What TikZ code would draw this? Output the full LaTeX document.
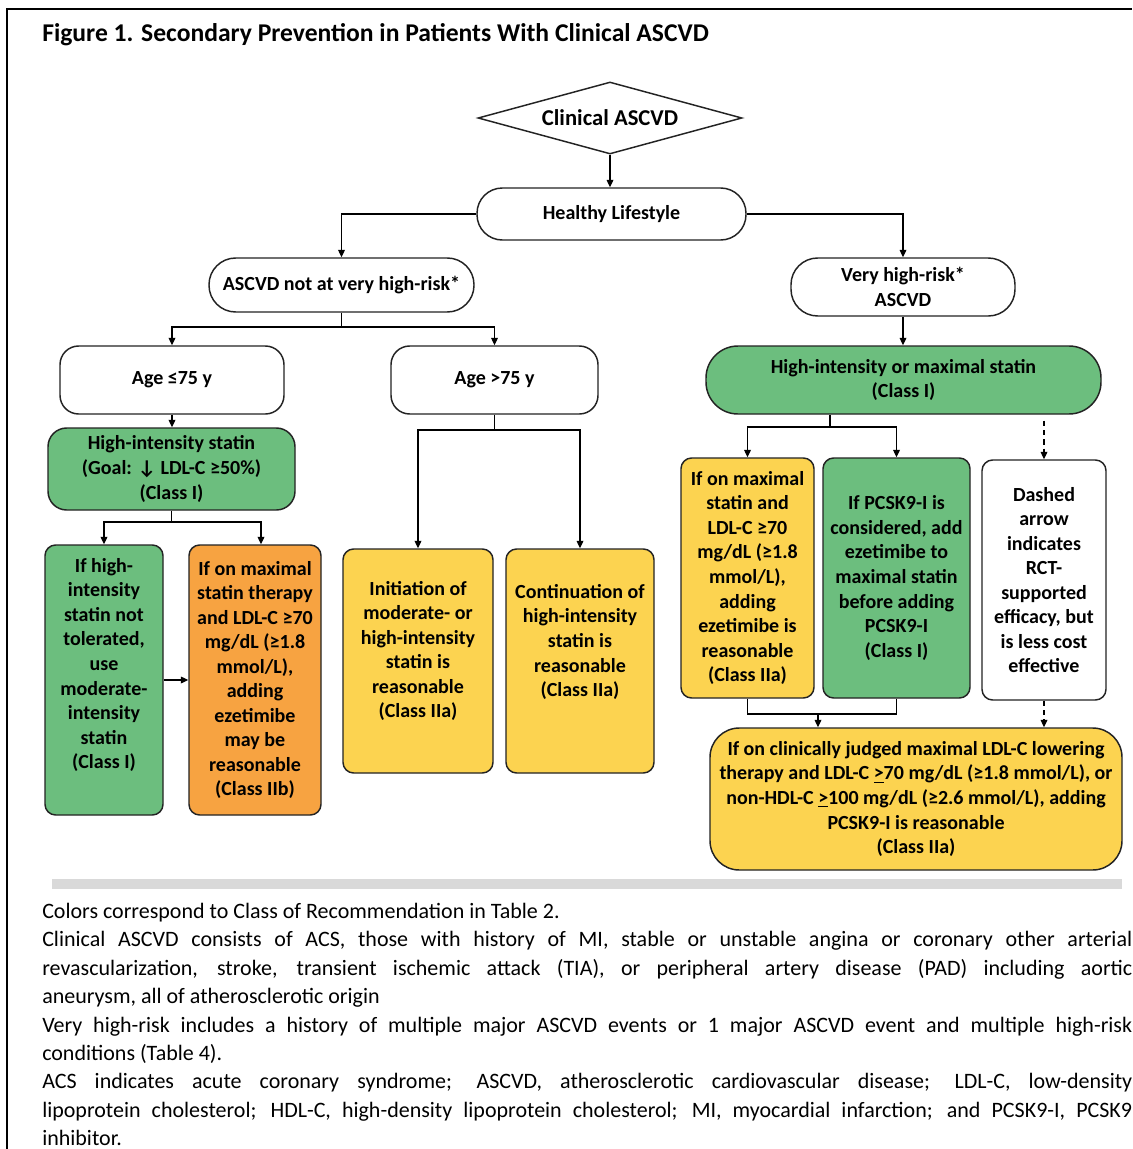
\documentclass[tikz,border=0pt]{standalone}
\usepackage{fontspec}
\setmainfont{Carlito}
\usetikzlibrary{arrows.meta,shapes.geometric,calc}
\definecolor{cgreen}{RGB}{108,190,126}
\definecolor{corange}{RGB}{247,163,65}
\definecolor{cyellow}{RGB}{252,211,80}
\definecolor{cborder}{RGB}{35,35,35}
\definecolor{cgray}{RGB}{217,217,217}
\newcommand\bxf{\fontsize{15}{18.4}\selectfont\bfseries}
\begin{document}
\begin{tikzpicture}[x=0.75pt,y=-0.75pt,
  sz/.style 2 args={minimum width=#1*0.75pt,minimum height=#2*0.75pt},
  box/.style={draw=cborder,line width=1.1pt,align=center,inner sep=1pt,font=\bxf},
  txt/.style={font=\bxf,align=center,inner sep=0pt},
  arr/.style={draw=black,line width=0.9pt,-{Triangle[length=5.5pt,width=5pt]}},
  ln/.style={draw=black,line width=0.9pt},
  darr/.style={arr,dash pattern=on 4pt off 3pt},
]
\useasboundingbox (0,0) rectangle (1132,1149);
\fill[white] (0,0) rectangle (1132,1149);
\draw[line width=1.5pt] (7,1149) -- (7,9) -- (1132,9);

\node[anchor=west,inner sep=0pt,font=\fontsize{19.2}{22}\selectfont\bfseries] (title) at (42,35) {Figure 1. Secondary Prevention in Patients With Clinical ASCVD};

% nodes
\node[box,diamond,aspect=3.6,inner sep=0pt,sz={264}{72},font=\fontsize{17}{20}\selectfont\bfseries] (dia) at (610,118) {Clinical ASCVD};
\node[box,rounded corners=19pt,sz={269}{52}] (hl) at (611.5,214) {Healthy Lifestyle};
\node[box,rounded corners=20pt,sz={265}{54}] (nvh) at (341.5,285) {ASCVD not at very high-risk*};
\node[box,rounded corners=20pt,sz={224}{58}] (vh) at (903,287) {Very high-risk*\\ASCVD};
\node[box,rounded corners=14pt,sz={224}{68}] (age1) at (172,380) {Age ≤75 y};
\node[box,rounded corners=14pt,sz={207}{68}] (age2) at (494.5,380) {Age >75 y};
\node[box,fill=cgreen,rounded corners=14pt,sz={247}{82}] (his) at (171.5,469) {High-intensity statin\\(Goal: ↓ LDL-C ≥50\%)\\(Class I)};
\node[box,fill=cgreen,rounded corners=8pt,sz={118}{270}] (g1) at (104,680) {};
\node[txt] (g1t) at (104,665) {If high-\\intensity\\statin not\\tolerated,\\use\\moderate-\\intensity\\statin\\(Class I)};
\node[box,fill=corange,rounded corners=8pt,sz={132}{270}] (o1) at (255,680) {If on maximal\\statin therapy\\and LDL-C ≥70\\mg/dL (≥1.8\\mmol/L),\\adding\\ezetimibe\\may be\\reasonable\\(Class IIb)};
\node[box,fill=cyellow,rounded corners=8pt,sz={150}{224}] (y1) at (418,661) {};
\node[txt] (y1t) at (418,651) {Initiation of\\moderate- or\\high-intensity\\statin is\\reasonable\\(Class IIa)};
\node[box,fill=cyellow,rounded corners=8pt,sz={148}{224}] (y2) at (580,661) {};
\node[txt] (y2t) at (580,642) {Continuation of\\high-intensity\\statin is\\reasonable\\(Class IIa)};
\node[box,fill=cgreen,rounded corners=24pt,sz={395}{68}] (him) at (903.5,380) {High-intensity or maximal statin\\(Class I)};
\node[box,fill=cyellow,rounded corners=8pt,sz={133}{240}] (y3) at (747.5,578) {If on maximal\\statin and\\LDL-C ≥70\\mg/dL (≥1.8\\mmol/L),\\adding\\ezetimibe is\\reasonable\\(Class IIa)};
\node[box,fill=cgreen,rounded corners=8pt,sz={147}{240}] (g2) at (896.5,578) {If PCSK9-I is\\considered, add\\ezetimibe to\\maximal statin\\before adding\\PCSK9-I\\(Class I)};
\node[box,fill=white,rounded corners=8pt,sz={124}{240}] (w1) at (1044,580) {Dashed\\arrow\\indicates\\RCT-\\supported\\efficacy, but\\is less cost\\effective};
\node[box,fill=cyellow,rounded corners=22pt,sz={412}{142},inner sep=1pt] (y4) at (916,799) {If on clinically judged maximal LDL-C lowering\\therapy and LDL-C \underline{>}70 mg/dL (≥1.8 mmol/L), or\\non-HDL-C \underline{>}100 mg/dL (≥2.6 mmol/L), adding\\PCSK9-I is reasonable\\(Class IIa)};

% connectors
\draw[arr] (dia.south) -- (dia.south |- hl.north);
\draw[arr] (hl.west) -| (nvh.north);
\draw[arr] (hl.east) -| (vh.north);
\coordinate (b1) at (341.5,327);
\draw[ln] (nvh.south) -- (b1);
\draw[arr] (b1) -| (age1.north);
\draw[arr] (b1) -| (age2.north);
\draw[arr] (vh.south) -- (vh.south |- him.north);
\draw[arr] (age1.south) -- (age1.south |- his.north);
\coordinate (b2) at (171.5,522);
\draw[ln] (his.south) -- (b2);
\draw[arr] (b2) -| (g1.north);
\draw[arr] (b2) -| ([xshift=4.5pt]o1.north);
\draw[arr] (g1.east) -- (o1.west);
\coordinate (b3) at (494.5,430);
\draw[ln] (age2.south) -- (b3);
\draw[arr] (b3) -| (y1.north);
\draw[arr] (b3) -| (y2.north);
\coordinate (b4) at (830,427);
\draw[ln] (b4 |- him.south) -- (b4);
\draw[arr] (b4) -| (y3.north);
\draw[arr] (b4) -| (g2.north);
\draw[darr] (w1.north |- him.south) ++(0,6) -- (w1.north);
\coordinate (b5) at (818,714);
\draw[ln] (y3.south) |- (b5);
\draw[ln] (g2.south) |- (b5);
\draw[arr] (b5) -- (b5 |- y4.north);
\draw[darr] (w1.south) -- (w1.south |- y4.north);

\fill[cgray] (52,879) rectangle (1122,889);

\node[anchor=north west,text width=817.5pt,align=justify,inner sep=0pt,font=\fontsize{16.5}{21.3}\selectfont] (notes) at (42,903) {Colors correspond to Class of Recommendation in Table 2.\par
Clinical ASCVD consists of ACS, those with history of MI, stable or unstable angina or coronary other arterial\linebreak
revascularization, stroke, transient ischemic attack (TIA), or peripheral artery disease (PAD) including aortic\linebreak
aneurysm, all of atherosclerotic origin\par
Very high-risk includes a history of multiple major ASCVD events or 1 major ASCVD event and multiple high-risk\linebreak
conditions (Table 4).\par
ACS indicates acute coronary syndrome; ASCVD, atherosclerotic cardiovascular disease; LDL-C, low-density\linebreak
lipoprotein cholesterol; HDL-C, high-density lipoprotein cholesterol; MI, myocardial infarction; and PCSK9-I, PCSK9\linebreak
inhibitor.};
\end{tikzpicture}
\end{document}
